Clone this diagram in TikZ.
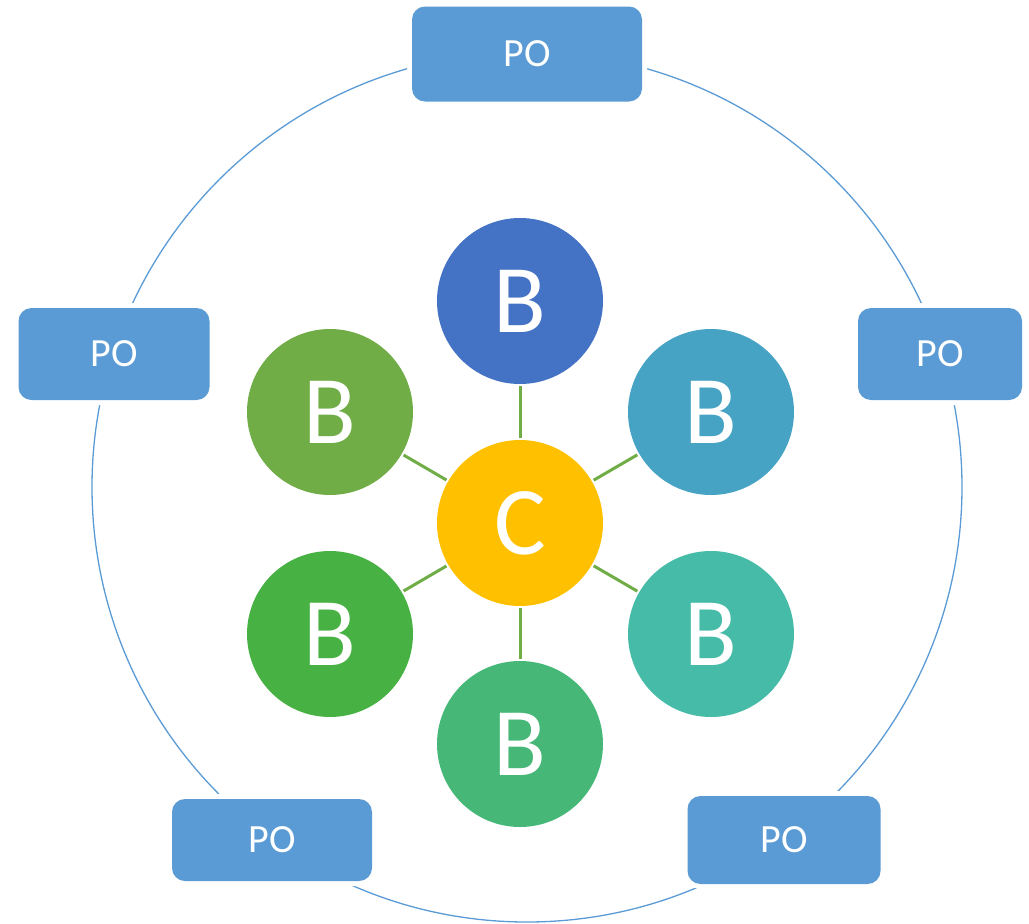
\documentclass[tikz,border=0pt]{standalone}
\usepackage{fontspec}
\setmainfont{Carlito}
\definecolor{poblue}{HTML}{5B9BD5}
\definecolor{ringblue}{HTML}{5B9BD5}
\definecolor{linkgreen}{HTML}{70AD47}
\definecolor{cgold}{HTML}{FFC000}
\definecolor{bA}{HTML}{4472C4}
\definecolor{bB}{HTML}{46A3C4}
\definecolor{bC}{HTML}{46BCA8}
\definecolor{bD}{HTML}{46B776}
\definecolor{bE}{HTML}{48B144}
\definecolor{bF}{HTML}{70AD47}
\tikzset{
  pobox/.style={rectangle, rounded corners=13pt, fill=poblue, text=white,
    inner sep=0pt, font=\fontsize{40}{48}\selectfont,
    preaction={draw=white, line width=10pt}},
  ball/.style={circle, minimum size=166pt, inner sep=0pt, text=white,
    font=\fontsize{97}{110}\selectfont},
  link/.style={draw=linkgreen, line width=3pt, shorten <=2pt, shorten >=2pt},
  ring/.style={draw=ringblue, line width=1.3pt}
}
\begin{document}
\begin{tikzpicture}[x=1pt, y=-1pt]
  \useasboundingbox (0,0) rectangle (1029,924);
  % outer ring behind the PO boxes
  \draw[ring] (527,487) circle[radius=435pt];
  % PO boxes on the ring
  \node[pobox, minimum width=230pt, minimum height=95pt] (po1) at (527,54) {PO};
  \node[pobox, minimum width=191pt, minimum height=92pt] (po2) at (114,354) {PO};
  \node[pobox, minimum width=164pt, minimum height=92pt] (po3) at (940,354) {PO};
  \node[pobox, minimum width=200pt, minimum height=82pt] (po4) at (272,840) {PO};
  \node[pobox, minimum width=193pt, minimum height=88pt] (po5) at (784,840) {PO};
  % centre and its six satellites
  \node[ball, fill=cgold] (c) at (520,523) {C};
  \node[ball, fill=bA] (b1) at (520,301) {B};
  \node[ball, fill=bB] (b2) at (711,412) {B};
  \node[ball, fill=bC] (b3) at (711,634) {B};
  \node[ball, fill=bD] (b4) at (520,744) {B};
  \node[ball, fill=bE] (b5) at (330,634) {B};
  \node[ball, fill=bF] (b6) at (330,412) {B};
  \foreach \b in {b1,b2,b3,b4,b5,b6}
    \draw[link] (c) -- (\b);
\end{tikzpicture}
\end{document}
